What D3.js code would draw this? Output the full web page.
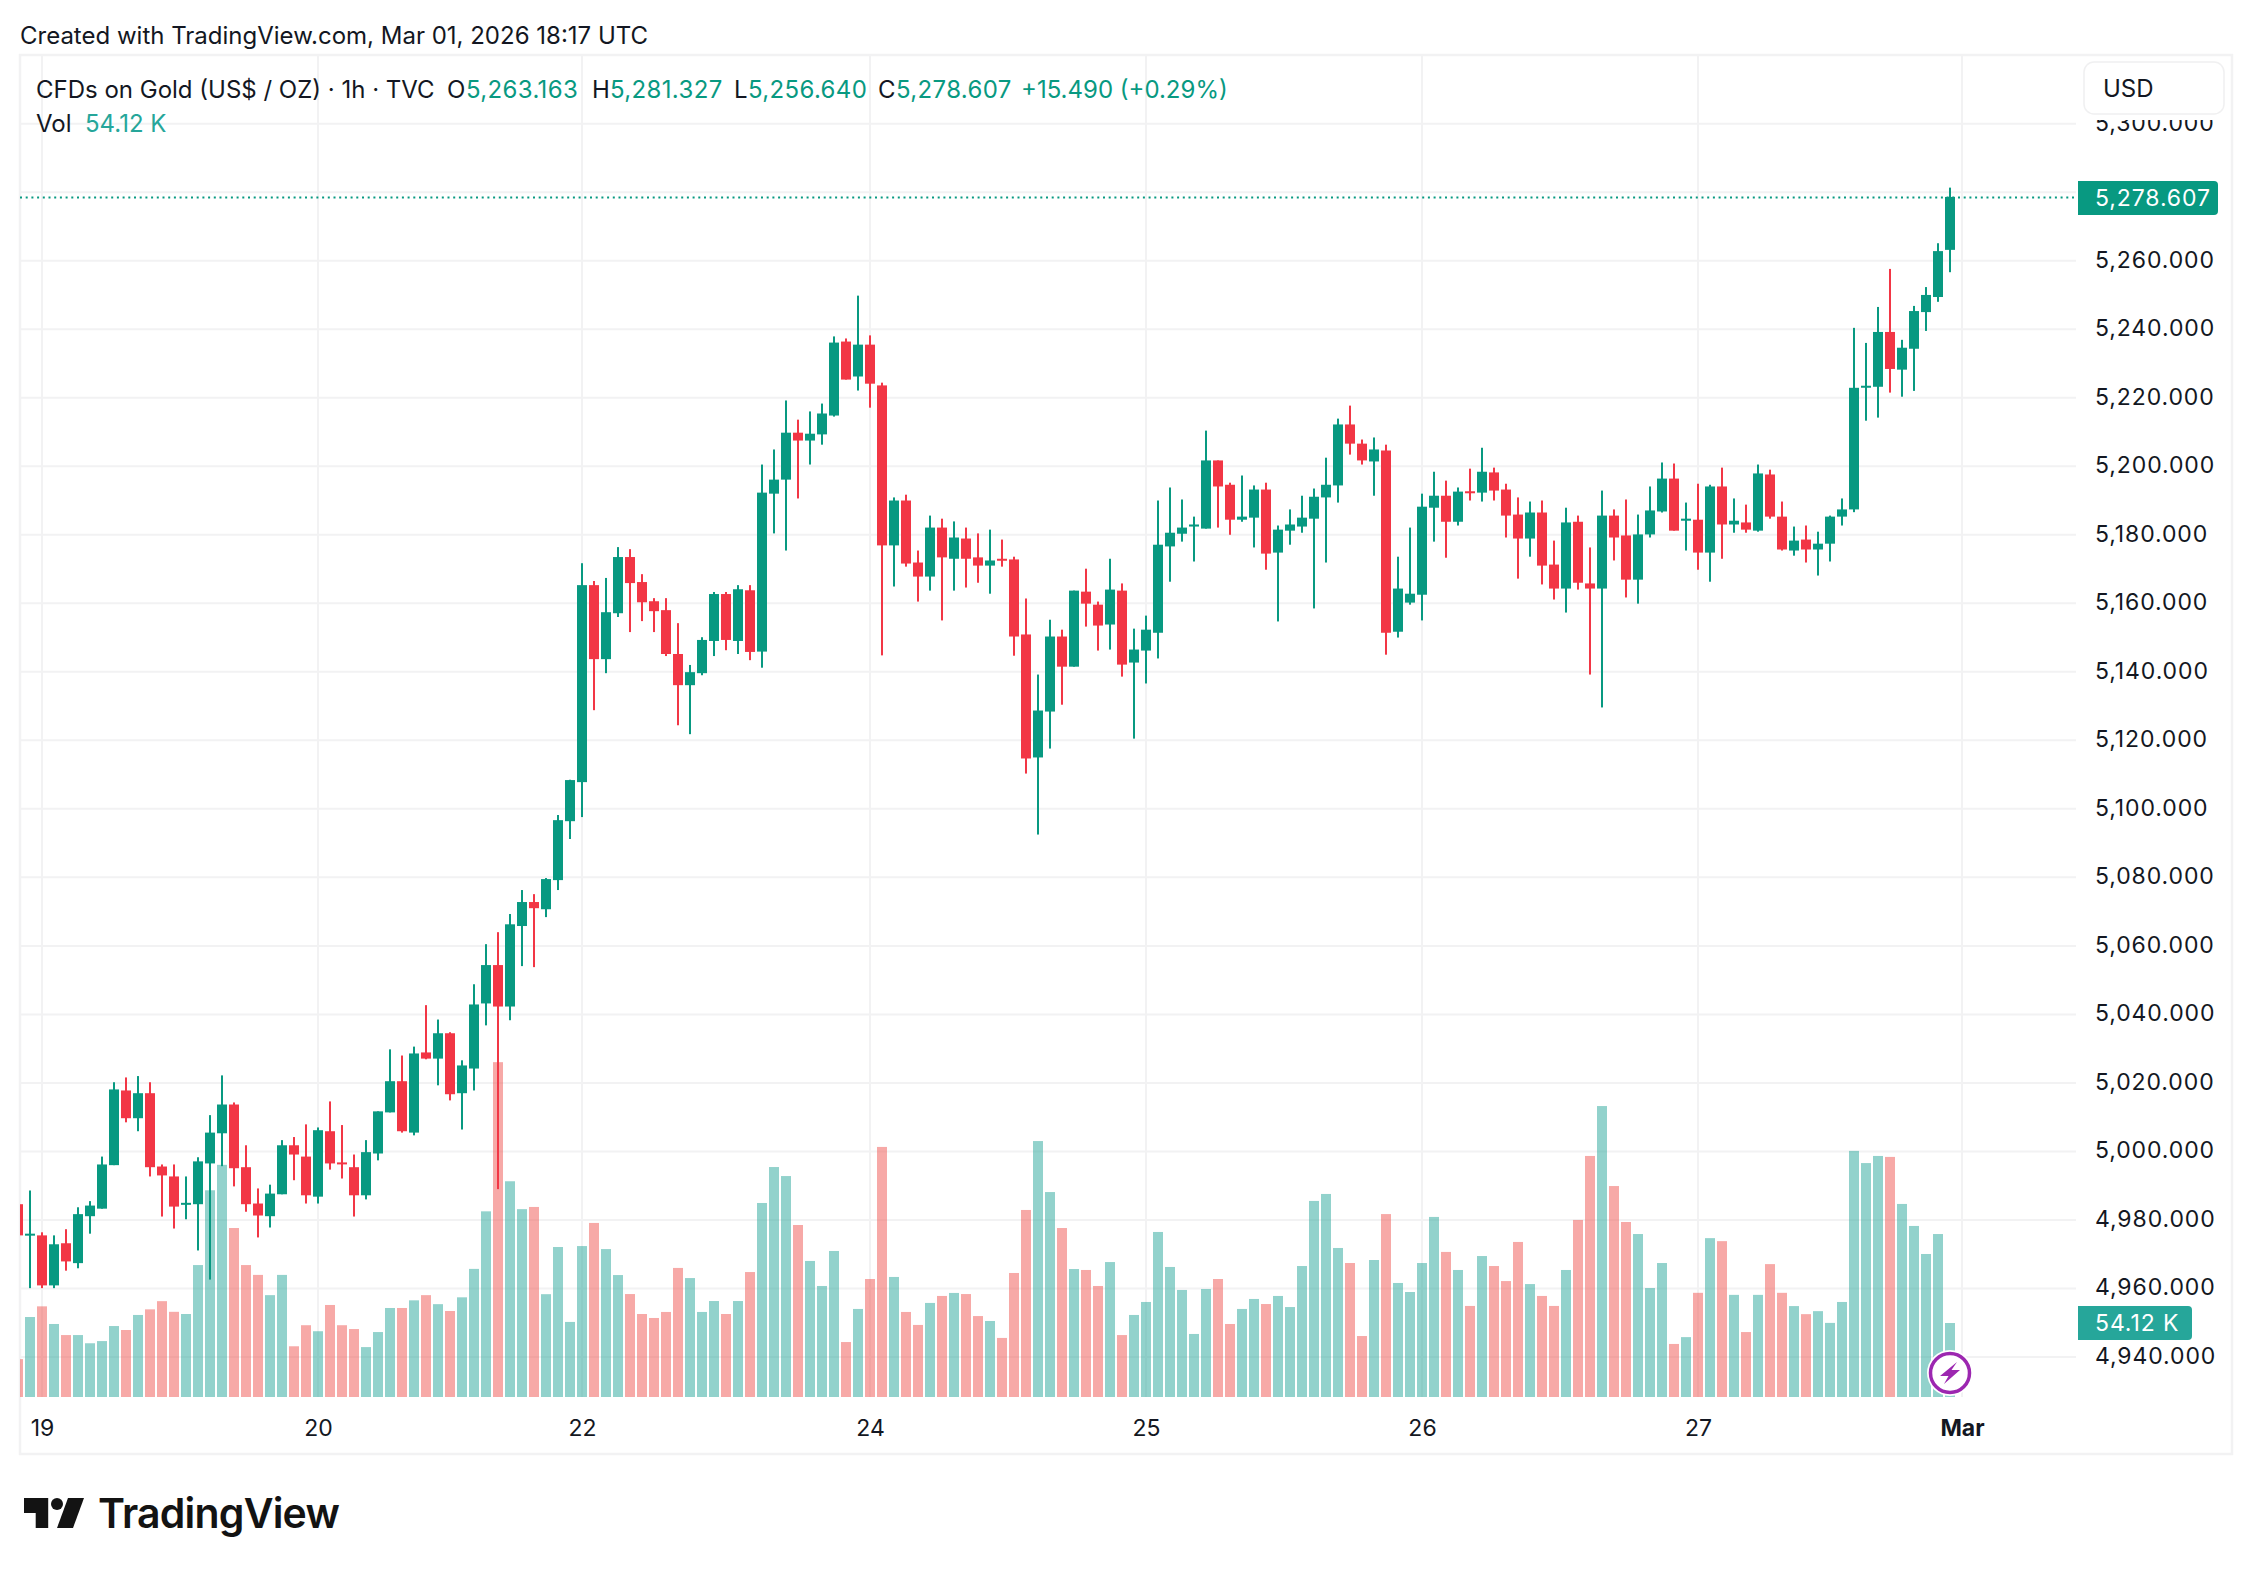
<!DOCTYPE html>
<html>
<head>
<meta charset="utf-8">
<title>CFDs on Gold</title>
<script src="https://cdn.jsdelivr.net/npm/d3@7"></script>
<style>
  html, body { margin: 0; padding: 0; background: #fff; }
  svg { display: block; }
  text { font-family: Inter, "Noto Sans", sans-serif; fill: #131722; }
</style>
</head>
<body>
<svg id="chart" width="2252" height="1574"></svg>
<script>
// hourly candles
var opens = [
  4984.6,4975.6,4975.5,4960.9,4973.2,4967.4,4981.1,4983.3,4996.0,5017.8,
  5009.7,5017,4995.6,4992.7,4984.6,4984.6,4996.5,5005.3,5013.7,4995.4,
  4984.8,4981.1,4987.5,5001.8,4998.5,4986.8,5005.9,4996.8,4995.4,4987.2,
  4999.4,5011.4,5020.5,5005.5,5028.9,5027.1,5034.5,5017,5024.2,5043.2,
  5054.4,5042.3,5065.8,5072.8,5070.7,5079.2,5096.4,5107.8,5165.3,5143.7,
  5157.1,5173.5,5166.2,5160.6,5158,5145.2,5136.1,5139.6,5149,5162.7,
  5149,5163.8,5145.9,5192,5196.1,5209.8,5207.5,5209.3,5214.8,5236.4,
  5226.2,5235.5,5223.6,5176.9,5190,5171.9,5167.8,5182.1,5173,5178.9,
  5173.4,5171,5173,5172.8,5150.9,5115,5128.4,5150.3,5141.5,5163.4,
  5159.6,5153.8,5163.7,5142.7,5146.2,5151.4,5176.6,5180.3,5182.4,5181.8,
  5201.7,5194.6,5184.4,5185,5193.2,5174.8,5181.2,5182.4,5184.7,5190.9,
  5194.4,5212.2,5206.6,5201.4,5204.6,5151.7,5160.2,5162.5,5187.9,5191.4,
  5183.8,5192.7,5192.3,5198.2,5193.2,5185.9,5178.9,5186.5,5171.3,5164.3,
  5183.8,5165.8,5164.3,5185.6,5179.8,5166.9,5180.1,5186.8,5196.4,5184.1,
  5184.4,5174.8,5194.1,5183,5183.6,5181.2,5197.6,5185.3,5175.4,5178.6,
  5175.7,5177.4,5185.3,5187.4,5223,5223.2,5239.2,5228.2,5234.3,5245,
  5249.4,5263.163
];
var highs = [
  4987,4988.6,4976.4,4975.5,4977.3,4983.7,4985.5,4998.5,5020.2,5021.6,
  5022,5020.2,4996.2,4996.2,4992.7,4998.3,5010.6,5022.2,5014.3,5001.8,
  4989.2,4990.3,5003.3,5004.2,5007.9,5007,5014.6,5007.7,4999.1,5003.3,
  5011.7,5029.8,5028,5030.6,5042.7,5038.5,5034.8,5026.6,5048.8,5060.5,
  5064,5069.3,5076.3,5075.1,5079.8,5098.2,5108.5,5171.7,5166.5,5167.4,
  5176.4,5175.8,5168.5,5161.5,5161.5,5154.2,5142,5150.1,5163.3,5163.3,
  5165.3,5165.3,5200.5,5204.9,5219.2,5213.6,5216,5218.3,5237.9,5237.3,
  5249.8,5238.2,5224.4,5190.9,5191.7,5175.4,5185.6,5184.7,5183.9,5182.1,
  5180.4,5181.5,5178.6,5173.6,5161.4,5139.2,5155.2,5152.3,5163.7,5170.1,
  5160.5,5173,5165.8,5152.6,5156.4,5190,5193.8,5190.3,5185.3,5210.4,
  5201.7,5195.2,5197.3,5194.4,5195.2,5182.7,5187.4,5191.4,5193.5,5202.5,
  5213.9,5217.7,5207.8,5208.4,5206.3,5173.6,5182.1,5192,5198.4,5195.8,
  5193.8,5199.3,5205.4,5199.6,5194.9,5190.9,5189.7,5190,5178.3,5187.9,
  5185.6,5176.3,5192.9,5187.4,5190.3,5185.9,5194.1,5201.1,5200.8,5189.4,
  5194.9,5194.6,5199.6,5190.6,5188.8,5200.5,5199,5189.7,5182.4,5182.7,
  5180.9,5185.6,5190.6,5240.4,5236,5246.5,5257.6,5236.9,5246.8,5252.3,
  5265.1,5281.327
];
var lows = [
  4973,4960.1,4960.1,4960.1,4965.2,4965.9,4976,4983.3,4996,5008.5,
  5005.9,4992.7,4981,4977.5,4980.2,4971.1,4962.6,4995.7,4989.8,4982.4,
  4974.9,4977.8,4987.5,4991.6,4984.8,4984.8,4994.7,4992.1,4981,4986,
  4997.4,5011.4,5005.5,5004.7,5026.9,5019.3,5014.9,5006.4,5017.8,5036.8,
  4989,5038.3,5054.1,5053.8,5068.4,5076.3,5091.2,5097.6,5128.8,5139.6,
  5156,5151.6,5154.8,5151.6,5144.6,5124.4,5121.8,5139,5144.6,5146.3,
  5145.2,5143.4,5141.2,5180.4,5175.4,5190.6,5200.5,5206.3,5214.5,5225.3,
  5222.1,5217.1,5144.8,5164.9,5170.7,5160.5,5163.7,5155,5163.7,5164.6,
  5166,5162.8,5170.7,5144.7,5110.3,5092.5,5117.6,5130.4,5141.5,5153.2,
  5146.2,5146.5,5138.6,5120.5,5136.6,5143.9,5166.3,5178,5172.2,5181.8,
  5182.1,5180,5183.8,5176.3,5169.8,5154.7,5177.1,5180.6,5158.5,5171.9,
  5189.4,5203.4,5200.5,5191.4,5145,5150,5159.6,5155,5178,5173.3,
  5182.7,5190,5189.7,5190,5179.2,5167.2,5173.6,5165.5,5161.1,5157.3,
  5164,5139.2,5129.6,5172.5,5161.7,5159.9,5179.2,5186.5,5181.2,5175.4,
  5169.8,5166.3,5173,5180.6,5180.6,5180.9,5184.7,5175.4,5173.9,5171.9,
  5168.1,5172.2,5182.7,5186.6,5213.3,5214.2,5221.5,5220.3,5222,5239.5,
  5248,5256.64
];
var closes = [
  4975.5,4976,4960.9,4972.9,4967.9,4981.7,4984.2,4996.2,5018.1,5009.7,
  5017,4995.4,4993,4983.9,4985,4997.1,5005.5,5013.7,4995.1,4984.6,
  4981.3,4987.7,5001.8,4999.1,4987.2,5006.2,4996.5,4996.4,4987.2,4999.8,
  5011.7,5020.5,5005.9,5028.6,5027.1,5034.5,5016.7,5025.1,5042.9,5054.4,
  5042.3,5066.3,5072.8,5071,5079.5,5096.7,5108.4,5165.3,5143.7,5157.4,
  5173.5,5165.9,5160.3,5157.7,5145.2,5136.1,5139.9,5149.3,5162.7,5149.3,
  5164.1,5145.8,5192.3,5196.1,5209.8,5207.5,5209.5,5215.4,5236.1,5225.3,
  5235.5,5224.1,5176.9,5190,5171.6,5167.8,5182.1,5173.4,5179.2,5173,
  5171,5172.5,5172.6,5150.3,5114.7,5128.7,5150.3,5141.5,5163.7,5159.9,
  5153.5,5164,5142.1,5146.5,5152.3,5177.1,5180.6,5182.1,5183,5201.7,
  5194.1,5184.4,5185.3,5193.2,5174.5,5181.5,5183,5185,5191.1,5194.6,
  5212.2,5206.6,5201.7,5204.9,5151.4,5164.3,5162.8,5188.2,5191.4,5183.8,
  5192.6,5192.2,5198.4,5192.9,5185.6,5178.9,5186.5,5171,5164.3,5183.6,
  5166,5164.3,5185.6,5179.2,5166.9,5180.1,5187.1,5196.4,5181.2,5184.7,
  5174.8,5194.1,5183,5184.1,5181.5,5197.9,5185.3,5175.7,5178.3,5175.7,
  5177.4,5185.3,5187.4,5222.9,5223.5,5239.2,5228.4,5234.6,5245.3,5250,
  5262.8,5278.607
];
// thousands
var volumes = [
  27.7,58.5,66.3,53.4,45.3,45.3,39.3,40.9,51.9,49,
  60,64.1,70.1,62.3,60.7,96.5,151.2,169.8,123.6,96.5,
  89.3,74.5,89.3,37.1,52.5,48.1,67.3,52.5,49.7,36.5,
  47.5,65.1,65.1,70.7,74.5,67.9,62.9,72.9,93.7,135.8,
  244.9,157.8,137.4,139,75.2,109.7,54.9,110.4,127.3,108.2,
  89.2,75.3,60.7,57.8,62.2,94.4,87,62.2,70.2,60.7,
  70.2,91.4,141.9,168.2,161.6,125.8,99.5,81.2,106.8,40.2,
  64.4,86.3,182.9,87.8,62.2,52.7,68.8,73.9,76.1,75.3,
  59.2,55.6,43.2,90.7,136.8,187.2,149.9,123.6,93.6,92.9,
  81.2,98.7,45.3,60,69.5,120.7,95.1,78.3,46.1,79,
  86.3,53.4,64.4,71.7,68,73.9,65.8,95.8,143.4,148.5,
  109,98,44.6,100.2,133.8,83.4,76.8,98,131.7,106.1,
  92.9,66.6,103.1,95.8,84.8,113.4,82.6,73.9,66.6,92.9,
  129.5,176.3,212.8,154.3,128,119.2,79.7,98,38.8,43.8,
  76.2,116.2,114,74.7,47.5,74.7,97.2,76.2,66.5,60.6,
  62.8,54.2,69.5,180,171.1,176.3,175.6,141.2,125.1,104.6,
  119.2,54.12
];
var priceTicks = [5300,5260,5240,5220,5200,5180,5160,5140,5120,5100,5080,5060,5040,5020,5000,4980,4960,4940];
var gridPrices = [5300,5280,5260,5240,5220,5200,5180,5160,5140,5120,5100,5080,5060,5040,5020,5000,4980,4960,4940];
var timeTicks = [2,25,47,71,94,117,140,162];
var timeLabels = ["19","20","22","24","25","26","27","Mar"];

var upColor = "#089981", downColor = "#f23645";
var upVol = "#26a69a", downVol = "#ef5350";
var gridColor = "#f2f2f3";

var left = 20, paneRight = 2076, right = 2232, top_ = 55, paneBottom = 1397, bottom = 1454;

var svg = d3.select("#chart");

var x = d3.scalePoint()
          .domain(d3.range(opens.length + 1))
          .range([18, 18 + 12 * opens.length]);
var y = d3.scaleLinear().domain([4940, 5300]).range([1357, 123.66]);
var yVol = d3.scaleLinear().domain([0, 250]).range([paneBottom, 1055.2]);

svg.append("defs").append("clipPath").attr("id", "pane")
   .append("rect").attr("x", left).attr("y", top_)
   .attr("width", paneRight - left).attr("height", paneBottom - top_);

// frame
svg.append("rect")
   .attr("x", left).attr("y", top_)
   .attr("width", right - left).attr("height", bottom - top_)
   .attr("fill", "#fff").attr("stroke", "#f2f2f3").attr("stroke-width", 2.5);

// grid
svg.append("g").selectAll("line").data(gridPrices).enter().append("line")
   .attr("x1", left).attr("x2", paneRight)
   .attr("y1", function (d) { return y(d); })
   .attr("y2", function (d) { return y(d); })
   .attr("stroke", gridColor).attr("stroke-width", 2);
svg.append("g").selectAll("line").data(timeTicks).enter().append("line")
   .attr("x1", function (d) { return x(d); })
   .attr("x2", function (d) { return x(d); })
   .attr("y1", top_).attr("y2", paneBottom)
   .attr("stroke", gridColor).attr("stroke-width", 2);

var pane = svg.append("g").attr("clip-path", "url(#pane)");

var idx = d3.range(opens.length);
var isUp = function (i) { return closes[i] >= opens[i]; };

// volume
pane.append("g").selectAll("rect").data(idx).enter().append("rect")
    .attr("x", function (i) { return x(i) - 5; })
    .attr("width", 10)
    .attr("y", function (i) { return yVol(volumes[i]); })
    .attr("height", function (i) { return paneBottom - yVol(volumes[i]); })
    .attr("fill", function (i) { return isUp(i) ? upVol : downVol; })
    .attr("fill-opacity", 0.5);

// candles
pane.append("g").selectAll("rect").data(idx).enter().append("rect")
    .attr("x", function (i) { return x(i) - 1; })
    .attr("width", 2)
    .attr("y", function (i) { return y(highs[i]); })
    .attr("height", function (i) { return y(lows[i]) - y(highs[i]); })
    .attr("fill", function (i) { return isUp(i) ? upColor : downColor; });
pane.append("g").selectAll("rect").data(idx).enter().append("rect")
    .attr("x", function (i) { return x(i) - 5; })
    .attr("width", 10)
    .attr("y", function (i) { return y(Math.max(opens[i], closes[i])); })
    .attr("height", function (i) { return Math.max(2, Math.abs(y(opens[i]) - y(closes[i]))); })
    .attr("fill", function (i) { return isUp(i) ? upColor : downColor; });

var last = opens.length - 1;

// last price line
svg.append("line")
   .attr("x1", left).attr("x2", paneRight)
   .attr("y1", Math.round(y(closes[last])) + 0.5).attr("y2", Math.round(y(closes[last])) + 0.5)
   .attr("stroke", upColor).attr("stroke-width", 2)
   .attr("stroke-dasharray", "2 3.7");

// axes
var yAxis = d3.axisRight(y).tickValues(priceTicks).tickFormat(d3.format(",.3f")).tickSize(0).tickPadding(0);
var gy = svg.append("g").attr("transform", "translate(2095,-1)").call(yAxis);
gy.select(".domain").remove();
gy.selectAll("text").attr("font-size", 23).style("letter-spacing", "0.9px").style("font-family", "Inter").attr("fill", "#131722");

var xAxis = d3.axisBottom(x).tickValues(timeTicks)
              .tickFormat(function (d) { return timeLabels[timeTicks.indexOf(d)]; })
              .tickSize(0).tickPadding(23);
var gx = svg.append("g").attr("transform", "translate(0," + paneBottom + ")").call(xAxis);
gx.select(".domain").remove();
gx.selectAll("text").attr("font-size", 23).style("font-family", "Inter").attr("fill", "#131722")
  .attr("font-weight", function (d) { return d === 162 ? 700 : 400; });

// right hand labels
function axisLabel(yPos, w, color, txt) {
  svg.append("path")
     .attr("d", "M2078," + (yPos - 17) + "h" + (w - 4) + "a4,4 0 0 1 4,4v26a4,4 0 0 1 -4,4h-" + (w - 4) + "z")
     .attr("fill", color);
  svg.append("text").attr("x", 2095).attr("y", yPos + 8)
     .attr("font-size", 23).style("letter-spacing", "0.9px")
     .style("fill", "#fff").text(txt);
}
axisLabel(y(closes[last]) + 1, 140, upColor, d3.format(",.3f")(closes[last]));
axisLabel(yVol(volumes[last]), 114, upVol, "54.12 K");

// currency box on top of the first label
svg.append("rect").attr("x", 2084).attr("y", 62).attr("width", 140).attr("height", 58).attr("fill", "#fff");
svg.append("rect").attr("x", 2084).attr("y", 62).attr("width", 140).attr("height", 52).attr("rx", 10)
   .attr("fill", "#fff").attr("stroke", "#f0f0f1").attr("stroke-width", 1.5);
svg.append("text").attr("x", 2103).attr("y", 97).attr("font-size", 24).text("USD");

// header lines
svg.append("text").attr("x", 20).attr("y", 44).attr("font-size", 24).text("Created with TradingView.com, Mar 01, 2026 18:17 UTC");
var legend = [
  [36, "CFDs on Gold (US$ / OZ) · 1h · TVC", "#131722", 0],
  [447, "O", "#131722", 0], [466, d3.format(",.3f")(opens[last]), upColor, 0.35],
  [592, "H", "#131722", 0], [610, d3.format(",.3f")(highs[last]), upColor, 0.35],
  [734, "L", "#131722", 0], [748, d3.format(",.3f")(lows[last]), upColor, 0.35],
  [878, "C", "#131722", 0], [896, d3.format(",.3f")(closes[last]), upColor, 0.35],
  [1021, "+15.490 (+0.29%)", upColor, 0]
];
svg.append("g").selectAll("text").data(legend).enter().append("text")
   .attr("x", function (d) { return d[0]; }).attr("y", 98)
   .attr("font-size", 24)
   .style("fill", function (d) { return d[2]; })
   .style("letter-spacing", function (d) { return d[3] + "px"; })
   .text(function (d) { return d[1]; });
svg.append("text").attr("x", 36).attr("y", 132).attr("font-size", 24).text("Vol");
svg.append("text").attr("x", 85).attr("y", 132).attr("font-size", 24).style("fill", upVol).text("54.12 K");

// lightning badge
var bolt = svg.append("g").attr("transform", "translate(" + x(last) + ",1373)");
bolt.append("circle").attr("r", 23).attr("fill", "#fff");
bolt.append("circle").attr("r", 19.5).attr("fill", "#fff").attr("stroke", "#9c27b0").attr("stroke-width", 3.5);
bolt.append("path").attr("d", "M7,-11 L-10,3 L-1.5,3 L-6,11 L10,-3 L1.5,-3 Z").attr("fill", "#9c27b0");

// logo
var logo = svg.append("g").attr("fill", "#131313");
logo.append("path").attr("d", "M24,1498H48.2V1528H35.7V1513H24Z");
logo.append("circle").attr("cx", 57).attr("cy", 1504).attr("r", 6);
logo.append("path").attr("d", "M84,1498L73,1528H57L68,1498Z");
svg.append("text").attr("x", 98).attr("y", 1528).attr("font-size", 41).attr("font-weight", 600)
   .style("fill", "#131313").style("letter-spacing", "-0.8px").text("TradingView");
</script>
</body>
</html>
